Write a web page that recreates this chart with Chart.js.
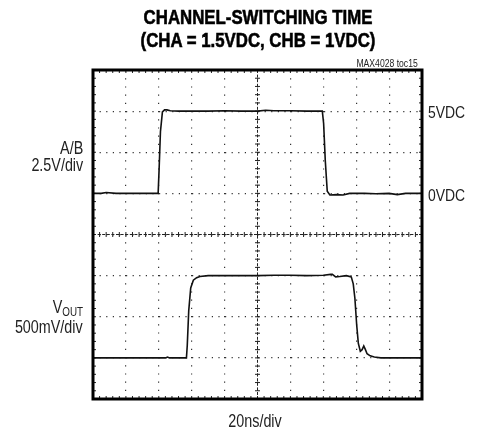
<!DOCTYPE html>
<html>
<head>
<meta charset="utf-8">
<script src="https://cdn.jsdelivr.net/npm/chart.js@4"></script>
<style>
  body { margin: 0; background: #fff; }
  #wrap { position: relative; width: 479px; height: 438px; overflow: hidden; font-family: "Liberation Sans", Arial, sans-serif; color: #222; }
  #plot { position: absolute; left: 0; top: 0; }
  .lbl { position: absolute; white-space: nowrap; line-height: 1; }
  .mid { transform: translateX(-50%) scaleX(0.82); transform-origin: center; }
  .rgt { transform: scaleX(0.82); transform-origin: right; }
  .lft { transform: scaleX(0.82); transform-origin: left; }
  .title { font-weight: bold; font-size: 20.5px; color: #000; left: 258px; -webkit-text-stroke: 0.6px #000; }
  .side { font-size: 17.5px; text-align: right; right: 396px; }
  .lvl { font-size: 17px; left: 428px; }
  sub { font-size: 12px; vertical-align: -3px; }
</style>
</head>
<body>
<div id="wrap">
  <canvas id="plot" width="479" height="438"></canvas>
  <div class="lbl title mid" style="top:7px">CHANNEL-SWITCHING TIME</div>
  <div class="lbl title mid" style="top:30px">(CHA = 1.5VDC, CHB = 1VDC)</div>
  <div class="lbl rgt" style="font-size:10.5px; right:61px; top:58px">MAX4028 toc15</div>
  <div class="lbl side rgt" style="top:140px">A/B</div>
  <div class="lbl side rgt" style="top:157px">2.5V/div</div>
  <div class="lbl side rgt" style="top:299px">V<sub>OUT</sub></div>
  <div class="lbl side rgt" style="top:319px">500mV/div</div>
  <div class="lbl lvl lft" style="top:104px">5VDC</div>
  <div class="lbl lvl lft" style="top:187px">0VDC</div>
  <div class="lbl mid" style="font-size:17.5px; left:255px; top:413px">20ns/div</div>
</div>
<script>
// time axis: 10 div x 20ns, vertical: 8 divisions (0 at bottom)
const timeTicks = [0, 20, 40, 60, 80, 100, 120, 140, 160, 180, 200];
const divTicks = [0, 1, 2, 3, 4, 5, 6, 7, 8];

// A/B trace, in divisions (5 = 0VDC, 7 = 5VDC)
const abTime  = [0, 5, 8, 14, 20, 30, 39.6, 40.2, 41, 42.2, 43.5, 45, 47, 52, 60, 70, 80, 90, 100, 105, 110, 120, 130, 139.4, 140.2, 141.2, 142.4, 144, 148, 152, 156, 165, 172, 180, 185, 190, 200];
const abLevel = [5, 5, 5.02, 5, 5, 5, 5, 5.6, 6.5, 6.98, 7.03, 7.03, 7.01, 7.0, 7.0, 7.0, 7.01, 7.0, 7.0, 7.02, 7.01, 7.01, 7.0, 7.0, 6.7, 5.8, 5.05, 4.96, 4.97, 4.96, 5.0, 5.0, 4.99, 5.0, 4.97, 5.0, 5.0];

// VOUT trace, in divisions (1 = low, 3 = high)
const voutTime  = [0, 20, 44, 45.3, 46.5, 56.8, 57.3, 58.2, 59.4, 61, 63, 65, 70, 80, 90, 100, 110, 120, 130, 140, 144.5, 145.5, 147.5, 150, 154, 157, 158.2, 159.2, 160.3, 161.3, 162.5, 163.6, 164.6, 165.6, 166.6, 168.5, 171, 175, 180, 190, 200];
const voutLevel = [1, 1, 1, 1.02, 1, 1, 1.3, 2.15, 2.7, 2.89, 2.95, 2.98, 3.0, 3.0, 3.0, 3.0, 3.01, 3.01, 3.0, 3.01, 3.03, 3.03, 2.97, 2.98, 3.0, 2.97, 2.8, 2.45, 1.8, 1.35, 1.16, 1.2, 1.29, 1.2, 1.1, 1.05, 1.02, 1.0, 1.0, 1.0, 1.0];

function toPoints(xs, ys) {
  return xs.map((x, i) => ({ x: x, y: ys[i] }));
}

// frame, center cross and edge ticks like a scope graticule
const graticule = {
  id: 'graticule',
  beforeDatasetsDraw(chart) {
    const ctx = chart.ctx;
    const xs = chart.scales.x, ys = chart.scales.y;
    const cx = xs.getPixelForValue(100), cy = ys.getPixelForValue(4);
    const a = chart.chartArea;
    ctx.save();
    ctx.strokeStyle = '#222';
    ctx.lineWidth = 1;
    // center lines
    ctx.setLineDash([3, 1.6]);
    ctx.beginPath();
    ctx.moveTo(a.left, cy); ctx.lineTo(a.right, cy);
    ctx.moveTo(cx, a.top); ctx.lineTo(cx, a.bottom);
    ctx.stroke();
    ctx.setLineDash([]);
    ctx.beginPath();
    for (let t = 0; t <= 200; t += 4) {
      const px = xs.getPixelForValue(t);
      ctx.moveTo(px, cy - 2.5); ctx.lineTo(px, cy + 2.5);
      ctx.moveTo(px, a.top); ctx.lineTo(px, a.top + 3);
      ctx.moveTo(px, a.bottom); ctx.lineTo(px, a.bottom - 3);
    }
    for (let d = 0; d <= 8; d += 0.2) {
      const py = ys.getPixelForValue(d);
      ctx.moveTo(cx - 2.5, py); ctx.lineTo(cx + 2.5, py);
      ctx.moveTo(a.left, py); ctx.lineTo(a.left + 3, py);
      ctx.moveTo(a.right, py); ctx.lineTo(a.right - 3, py);
    }
    ctx.stroke();
    ctx.restore();
  },
  afterDraw(chart) {
    const ctx = chart.ctx, a = chart.chartArea;
    ctx.save();
    ctx.strokeStyle = '#000';
    ctx.lineWidth = 3;
    ctx.strokeRect(a.left, a.top, a.right - a.left, a.bottom - a.top);
    ctx.restore();
  }
};

new Chart(document.getElementById('plot'), {
  type: 'scatter',
  data: {
    datasets: [
      { label: 'A/B', data: toPoints(abTime, abLevel), showLine: true, borderColor: '#111', borderWidth: 1.6, pointRadius: 0, tension: 0 },
      { label: 'VOUT', data: toPoints(voutTime, voutLevel), showLine: true, borderColor: '#111', borderWidth: 1.6, pointRadius: 0, tension: 0 }
    ]
  },
  options: {
    responsive: false,
    animation: false,
    layout: { padding: { left: 93, right: 57, top: 70, bottom: 39 } },
    plugins: { legend: { display: false }, tooltip: { enabled: false } },
    scales: {
      x: {
        type: 'linear', min: 0, max: 200,
        afterBuildTicks: s => { s.ticks = timeTicks.map(v => ({ value: v })); },
        ticks: { display: false },
        grid: { color: '#333', lineWidth: 1.2, drawTicks: false },
        border: { display: false, dash: [1.2, 7] }
      },
      y: {
        min: 0, max: 8,
        afterBuildTicks: s => { s.ticks = divTicks.map(v => ({ value: v })); },
        ticks: { display: false },
        grid: { color: '#333', lineWidth: 1.2, drawTicks: false },
        border: { display: false, dash: [1.2, 5.4] }
      }
    }
  },
  plugins: [graticule]
});
</script>
</body>
</html>
